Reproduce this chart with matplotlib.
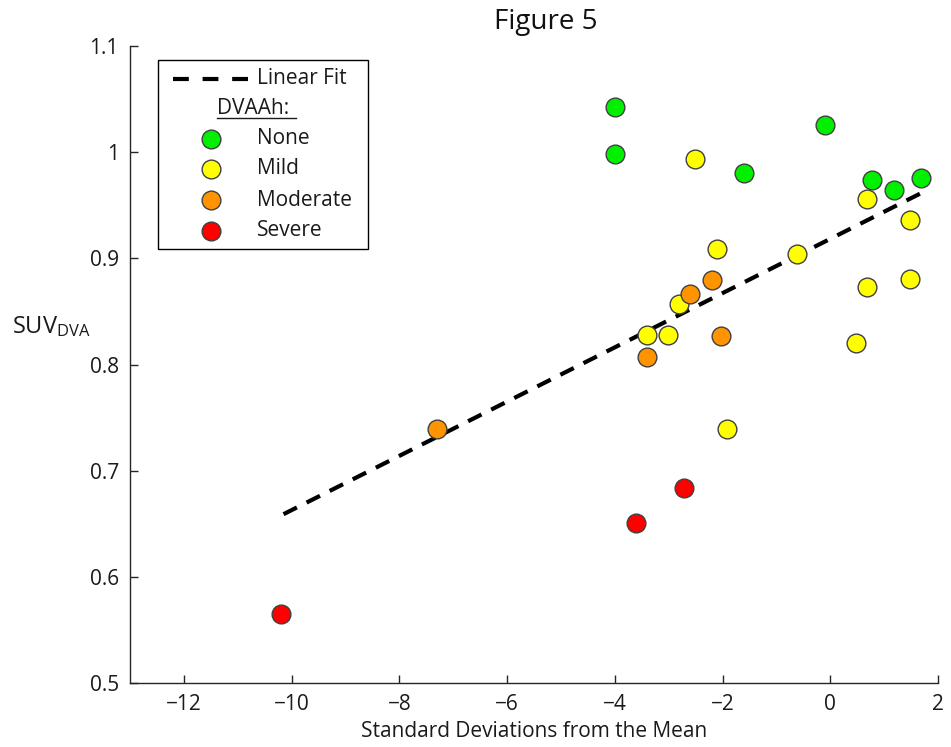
import matplotlib
matplotlib.use("Agg")
import matplotlib.pyplot as plt
from matplotlib.lines import Line2D
from matplotlib.patches import Rectangle

plt.rcParams['font.family'] = ['Open Sans', 'DejaVu Sans']
plt.rcParams['mathtext.fontset'] = 'custom'
plt.rcParams['mathtext.rm'] = 'Open Sans'
plt.rcParams['mathtext.it'] = 'Open Sans:italic'

# data
none_x = [-4.0, -4.0, -1.6, -0.1, 0.78, 1.19, 1.69]
none_y = [1.043, 0.998, 0.980, 1.026, 0.974, 0.964, 0.976]
mild_x = [-2.52, 0.69, 1.48, -2.11, -0.61, 0.69, 1.48, -2.81, -3.41, -3.02, -1.91, 0.48]
mild_y = [0.994, 0.956, 0.936, 0.909, 0.904, 0.873, 0.881, 0.857, 0.828, 0.828, 0.739, 0.820]
moderate_x = [-2.2, -2.61, -3.41, -2.02, -7.30]
moderate_y = [0.880, 0.866, 0.807, 0.827, 0.739]
severe_x = [-3.61, -2.72, -10.19]
severe_y = [0.651, 0.684, 0.565]

fit_x = [-10.15, 1.67]
fit_y = [0.659, 0.961]

xticks = [-12, -10, -8, -6, -4, -2, 0, 2]
yticks = [0.5, 0.6, 0.7, 0.8, 0.9, 1.0, 1.1]
ytick_labels = ['0.5', '0.6', '0.7', '0.8', '0.9', '1', '1.1']

groups = [
    ("None", none_x, none_y, "#00f000"),
    ("Mild", mild_x, mild_y, "#ffff00"),
    ("Moderate", moderate_x, moderate_y, "#ff9400"),
    ("Severe", severe_x, severe_y, "#ff0000"),
]

W, H = 951, 747
fig = plt.figure(figsize=(W / 100, H / 100), dpi=100)
ax = fig.add_axes([130 / W, 1 - 683 / H, 808 / W, 637 / H])

ax.plot(fit_x, fit_y, color='black', lw=3, linestyle=(0, (3.6, 2.6)), zorder=2)

for name, xs, ys, c in groups:
    ax.plot(xs, ys, linestyle='none', marker='o', markersize=13.5,
            markerfacecolor=c, markeredgecolor='#404040', markeredgewidth=1, zorder=3)

ax.set_xlim(-13, 2)
ax.set_ylim(0.5, 1.1)
ax.set_xticks(xticks)
ax.set_yticks(yticks)
ax.set_yticklabels(ytick_labels)
for s in ['top', 'right']:
    ax.spines[s].set_visible(False)
for s in ['left', 'bottom']:
    ax.spines[s].set_color('#262626')
    ax.spines[s].set_linewidth(1)
ax.tick_params(direction='in', length=6, width=1, color='#262626',
               labelsize=15, labelcolor='#1a1a1a', pad=8)

ax.set_xlabel('Standard Deviations from the Mean', fontsize=15, color='#1a1a1a', labelpad=4)
ax.set_ylabel(r'SUV$_{\mathrm{DVA}}$', fontsize=17, color='#1a1a1a', rotation=0,
              ha='center', va='center')
ax.yaxis.set_label_coords(-0.097, 0.56)

fig.text(546 / W, 1 - 22 / H, 'Figure 5', fontsize=20, ha='center', va='center', color='#111111')

# legend drawn by hand (MATLAB style with a sub-header)
def fx(px):
    return px / W

def fy(py):
    return 1 - py / H

fig.add_artist(Rectangle((fx(158), fy(249)), fx(368) - fx(158), fy(60) - fy(249),
                         transform=fig.transFigure, facecolor='white',
                         edgecolor='black', lw=1, zorder=5))
fig.add_artist(Line2D([fx(173), fx(248)], [fy(79), fy(79)], color='black', lw=3,
                      linestyle=(0, (3.8, 3.3)), transform=fig.transFigure, zorder=6))
fig.text(fx(257), fy(79), 'Linear Fit', fontsize=15, va='center', ha='left',
         color='#1a1a1a', zorder=6)
fig.text(fx(217), fy(108), 'DVAAh:', fontsize=15, va='center', ha='left',
         color='#1a1a1a', zorder=6)
fig.add_artist(Line2D([fx(217), fx(296)], [fy(118), fy(118)], color='#1a1a1a', lw=1,
                      transform=fig.transFigure, zorder=6))
for i, (name, xs, ys, c) in enumerate(groups):
    yy = [139, 169, 200, 231][i]
    fig.add_artist(Line2D([fx(211)], [fy(yy)], linestyle='none', marker='o', markersize=13.5,
                          markerfacecolor=c, markeredgecolor='#404040', markeredgewidth=1,
                          transform=fig.transFigure, zorder=6))
    fig.text(fx(257), fy(yy), name, fontsize=15, va='center', ha='left',
             color='#1a1a1a', zorder=6)

fig.savefig('out.png', dpi=100)
